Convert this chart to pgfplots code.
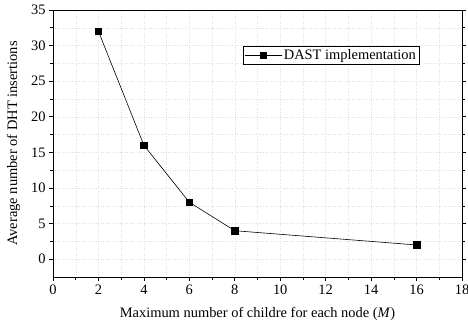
\documentclass[border=0pt]{standalone}
\usepackage{pgfplots}
\pgfplotsset{compat=1.18}
\usepackage{fontspec}
\setmainfont{Liberation Serif}
\begin{document}
\begin{tikzpicture}
\useasboundingbox (-53bp,-54bp) rectangle (415bp,277bp);
\begin{axis}[
  at={(0,0)}, anchor=south west,
  scale only axis, width=409bp, height=267bp,
  xmin=0, xmax=18, ymin=-2.5, ymax=35,
  xtick={0,2,...,18}, ytick={0,5,...,35},
  minor x tick num=1, minor y tick num=1,
  grid=both,
  major grid style={gray!25, dotted, line width=0.4pt},
  minor grid style={gray!25, dotted, line width=0.4pt},
  tick align=outside,
  minor tick style={black},
  major tick length=4bp, minor tick length=2.5bp,
  axis line style={line width=0.8pt},
  every tick/.style={black, line width=0.6pt},
  xtick pos=bottom, ytick pos=both,
  yticklabel pos=left,
  /pgf/number format/assume math mode=true,
  tick label style={font=\fontsize{14.5}{16}\selectfont},
  label style={font=\fontsize{14.5}{16}\selectfont},
  xlabel={Maximum number of childre for each node (\textit{M})},
  ylabel={Average number of DHT insertions},
  xlabel style={yshift=-6bp},
  ylabel style={yshift=4bp},
  legend style={at={(0.68,0.83)}, anchor=center, draw=black, line width=0.6pt,
    font=\fontsize{14.5}{16}\selectfont, inner sep=1pt, row sep=0pt},
  legend cell align=left,
  legend image code/.code={\draw[mark repeat=2,mark phase=2,#1] plot coordinates {(0cm,0cm)(0.65cm,0cm)(1.3cm,0cm)};},
]
\addplot[black, line width=0.6pt, mark=square*, mark size=3.3pt, mark options={solid}]
  coordinates {(2,32) (4,16) (6,8) (8,4) (16,2)};
\addlegendentry{DAST implementation}
\end{axis}
\end{tikzpicture}
\end{document}
